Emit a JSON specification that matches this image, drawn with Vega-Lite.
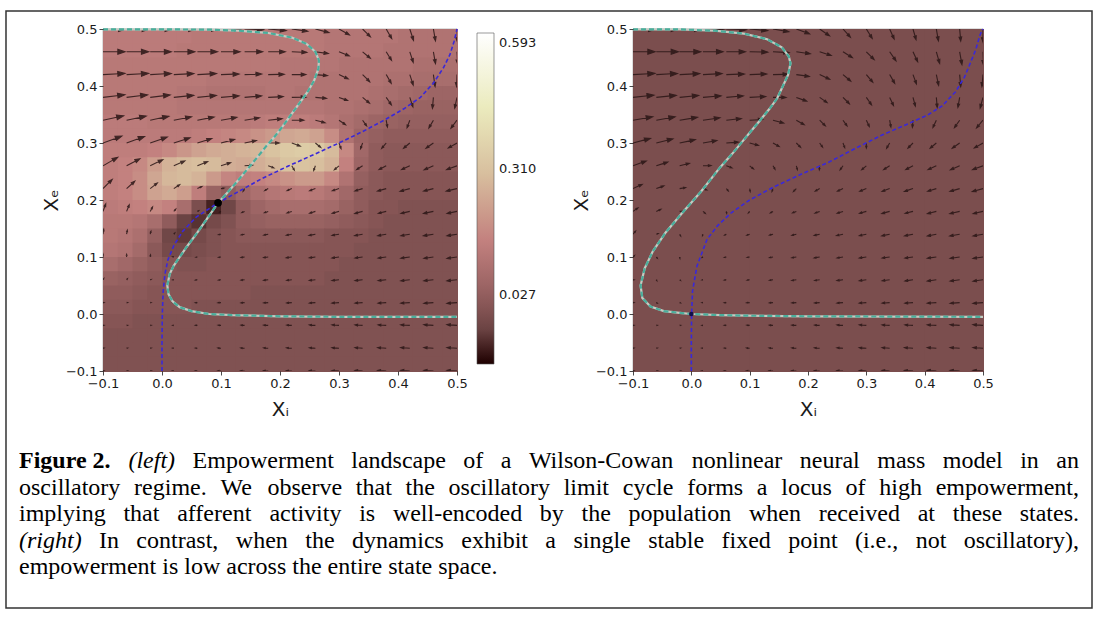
{
"$schema":"https://vega.github.io/schema/vega-lite/v6.json",
"background":"white",
"padding":{"left":5,"top":10,"right":4,"bottom":17},
"config":{
"font":"DejaVu Sans",
"view":{"stroke":"#333","strokeWidth":0.8},
"axis":{"labelFont":"DejaVu Sans","labelFontSize":13,"labelColor":"#1a1a1a","tickColor":"#1a1a1a","tickSize":4,"tickWidth":0.8,"domain":false,"grid":false,"titleFont":"DejaVu Sans","titleFontSize":20,"titleFontWeight":"normal","titleColor":"#1a1a1a","labelPadding":2,"labelFlush":false,"labelOverlap":false}
},
"datasets":{
"heatL":[
{"x":-0.0875,"y":0.4875,"v":0.13},{"x":-0.0625,"y":0.4875,"v":0.13},{"x":-0.0375,"y":0.4875,"v":0.13},{"x":-0.0125,"y":0.4875,"v":0.13},{"x":0.0125,"y":0.4875,"v":0.13},{"x":0.0375,"y":0.4875,"v":0.13},{"x":0.0625,"y":0.4875,"v":0.12},{"x":0.0875,"y":0.4875,"v":0.12},{"x":0.1125,"y":0.4875,"v":0.12},{"x":0.1375,"y":0.4875,"v":0.12},{"x":0.1625,"y":0.4875,"v":0.12},{"x":0.1875,"y":0.4875,"v":0.12},{"x":0.2125,"y":0.4875,"v":0.12},{"x":0.2375,"y":0.4875,"v":0.12},{"x":0.2625,"y":0.4875,"v":0.12},{"x":0.2875,"y":0.4875,"v":0.11},{"x":0.3125,"y":0.4875,"v":0.11},{"x":0.3375,"y":0.4875,"v":0.11},{"x":0.3625,"y":0.4875,"v":0.11},{"x":0.3875,"y":0.4875,"v":0.11},{"x":0.4125,"y":0.4875,"v":0.10},{"x":0.4375,"y":0.4875,"v":0.10},{"x":0.4625,"y":0.4875,"v":0.10},{"x":0.4875,"y":0.4875,"v":0.10},
{"x":-0.0875,"y":0.4625,"v":0.13},{"x":-0.0625,"y":0.4625,"v":0.13},{"x":-0.0375,"y":0.4625,"v":0.13},{"x":-0.0125,"y":0.4625,"v":0.13},{"x":0.0125,"y":0.4625,"v":0.13},{"x":0.0375,"y":0.4625,"v":0.12},{"x":0.0625,"y":0.4625,"v":0.12},{"x":0.0875,"y":0.4625,"v":0.12},{"x":0.1125,"y":0.4625,"v":0.12},{"x":0.1375,"y":0.4625,"v":0.12},{"x":0.1625,"y":0.4625,"v":0.12},{"x":0.1875,"y":0.4625,"v":0.12},{"x":0.2125,"y":0.4625,"v":0.12},{"x":0.2375,"y":0.4625,"v":0.12},{"x":0.2625,"y":0.4625,"v":0.12},{"x":0.2875,"y":0.4625,"v":0.11},{"x":0.3125,"y":0.4625,"v":0.11},{"x":0.3375,"y":0.4625,"v":0.11},{"x":0.3625,"y":0.4625,"v":0.11},{"x":0.3875,"y":0.4625,"v":0.10},{"x":0.4125,"y":0.4625,"v":0.10},{"x":0.4375,"y":0.4625,"v":0.10},{"x":0.4625,"y":0.4625,"v":0.10},{"x":0.4875,"y":0.4625,"v":0.10},
{"x":-0.0875,"y":0.4375,"v":0.12},{"x":-0.0625,"y":0.4375,"v":0.12},{"x":-0.0375,"y":0.4375,"v":0.12},{"x":-0.0125,"y":0.4375,"v":0.12},{"x":0.0125,"y":0.4375,"v":0.12},{"x":0.0375,"y":0.4375,"v":0.12},{"x":0.0625,"y":0.4375,"v":0.12},{"x":0.0875,"y":0.4375,"v":0.12},{"x":0.1125,"y":0.4375,"v":0.12},{"x":0.1375,"y":0.4375,"v":0.12},{"x":0.1625,"y":0.4375,"v":0.12},{"x":0.1875,"y":0.4375,"v":0.12},{"x":0.2125,"y":0.4375,"v":0.11},{"x":0.2375,"y":0.4375,"v":0.11},{"x":0.2625,"y":0.4375,"v":0.11},{"x":0.2875,"y":0.4375,"v":0.11},{"x":0.3125,"y":0.4375,"v":0.10},{"x":0.3375,"y":0.4375,"v":0.10},{"x":0.3625,"y":0.4375,"v":0.10},{"x":0.3875,"y":0.4375,"v":0.10},{"x":0.4125,"y":0.4375,"v":0.10},{"x":0.4375,"y":0.4375,"v":0.09},{"x":0.4625,"y":0.4375,"v":0.09},{"x":0.4875,"y":0.4375,"v":0.09},
{"x":-0.0875,"y":0.4125,"v":0.12},{"x":-0.0625,"y":0.4125,"v":0.12},{"x":-0.0375,"y":0.4125,"v":0.12},{"x":-0.0125,"y":0.4125,"v":0.12},{"x":0.0125,"y":0.4125,"v":0.12},{"x":0.0375,"y":0.4125,"v":0.12},{"x":0.0625,"y":0.4125,"v":0.12},{"x":0.0875,"y":0.4125,"v":0.11},{"x":0.1125,"y":0.4125,"v":0.11},{"x":0.1375,"y":0.4125,"v":0.11},{"x":0.1625,"y":0.4125,"v":0.11},{"x":0.1875,"y":0.4125,"v":0.11},{"x":0.2125,"y":0.4125,"v":0.11},{"x":0.2375,"y":0.4125,"v":0.11},{"x":0.2625,"y":0.4125,"v":0.10},{"x":0.2875,"y":0.4125,"v":0.10},{"x":0.3125,"y":0.4125,"v":0.10},{"x":0.3375,"y":0.4125,"v":0.10},{"x":0.3625,"y":0.4125,"v":0.10},{"x":0.3875,"y":0.4125,"v":0.09},{"x":0.4125,"y":0.4125,"v":0.09},{"x":0.4375,"y":0.4125,"v":0.08},{"x":0.4625,"y":0.4125,"v":0.08},{"x":0.4875,"y":0.4125,"v":0.08},
{"x":-0.0875,"y":0.3875,"v":0.12},{"x":-0.0625,"y":0.3875,"v":0.12},{"x":-0.0375,"y":0.3875,"v":0.12},{"x":-0.0125,"y":0.3875,"v":0.12},{"x":0.0125,"y":0.3875,"v":0.12},{"x":0.0375,"y":0.3875,"v":0.11},{"x":0.0625,"y":0.3875,"v":0.11},{"x":0.0875,"y":0.3875,"v":0.10},{"x":0.1125,"y":0.3875,"v":0.10},{"x":0.1375,"y":0.3875,"v":0.10},{"x":0.1625,"y":0.3875,"v":0.10},{"x":0.1875,"y":0.3875,"v":0.11},{"x":0.2125,"y":0.3875,"v":0.11},{"x":0.2375,"y":0.3875,"v":0.10},{"x":0.2625,"y":0.3875,"v":0.10},{"x":0.2875,"y":0.3875,"v":0.10},{"x":0.3125,"y":0.3875,"v":0.10},{"x":0.3375,"y":0.3875,"v":0.10},{"x":0.3625,"y":0.3875,"v":0.09},{"x":0.3875,"y":0.3875,"v":0.08},{"x":0.4125,"y":0.3875,"v":0.07},{"x":0.4375,"y":0.3875,"v":0.06},{"x":0.4625,"y":0.3875,"v":0.05},{"x":0.4875,"y":0.3875,"v":0.05},
{"x":-0.0875,"y":0.3625,"v":0.12},{"x":-0.0625,"y":0.3625,"v":0.12},{"x":-0.0375,"y":0.3625,"v":0.12},{"x":-0.0125,"y":0.3625,"v":0.12},{"x":0.0125,"y":0.3625,"v":0.12},{"x":0.0375,"y":0.3625,"v":0.11},{"x":0.0625,"y":0.3625,"v":0.11},{"x":0.0875,"y":0.3625,"v":0.11},{"x":0.1125,"y":0.3625,"v":0.11},{"x":0.1375,"y":0.3625,"v":0.11},{"x":0.1625,"y":0.3625,"v":0.11},{"x":0.1875,"y":0.3625,"v":0.11},{"x":0.2125,"y":0.3625,"v":0.11},{"x":0.2375,"y":0.3625,"v":0.11},{"x":0.2625,"y":0.3625,"v":0.11},{"x":0.2875,"y":0.3625,"v":0.10},{"x":0.3125,"y":0.3625,"v":0.10},{"x":0.3375,"y":0.3625,"v":0.09},{"x":0.3625,"y":0.3625,"v":0.08},{"x":0.3875,"y":0.3625,"v":0.06},{"x":0.4125,"y":0.3625,"v":0.05},{"x":0.4375,"y":0.3625,"v":0.04},{"x":0.4625,"y":0.3625,"v":0.04},{"x":0.4875,"y":0.3625,"v":0.04},
{"x":-0.0875,"y":0.3375,"v":0.13},{"x":-0.0625,"y":0.3375,"v":0.13},{"x":-0.0375,"y":0.3375,"v":0.13},{"x":-0.0125,"y":0.3375,"v":0.12},{"x":0.0125,"y":0.3375,"v":0.12},{"x":0.0375,"y":0.3375,"v":0.12},{"x":0.0625,"y":0.3375,"v":0.12},{"x":0.0875,"y":0.3375,"v":0.12},{"x":0.1125,"y":0.3375,"v":0.12},{"x":0.1375,"y":0.3375,"v":0.12},{"x":0.1625,"y":0.3375,"v":0.13},{"x":0.1875,"y":0.3375,"v":0.14},{"x":0.2125,"y":0.3375,"v":0.14},{"x":0.2375,"y":0.3375,"v":0.14},{"x":0.2625,"y":0.3375,"v":0.13},{"x":0.2875,"y":0.3375,"v":0.11},{"x":0.3125,"y":0.3375,"v":0.09},{"x":0.3375,"y":0.3375,"v":0.07},{"x":0.3625,"y":0.3375,"v":0.05},{"x":0.3875,"y":0.3375,"v":0.04},{"x":0.4125,"y":0.3375,"v":0.03},{"x":0.4375,"y":0.3375,"v":0.03},{"x":0.4625,"y":0.3375,"v":0.03},{"x":0.4875,"y":0.3375,"v":0.03},
{"x":-0.0875,"y":0.3125,"v":0.13},{"x":-0.0625,"y":0.3125,"v":0.13},{"x":-0.0375,"y":0.3125,"v":0.13},{"x":-0.0125,"y":0.3125,"v":0.13},{"x":0.0125,"y":0.3125,"v":0.13},{"x":0.0375,"y":0.3125,"v":0.13},{"x":0.0625,"y":0.3125,"v":0.14},{"x":0.0875,"y":0.3125,"v":0.15},{"x":0.1125,"y":0.3125,"v":0.16},{"x":0.1375,"y":0.3125,"v":0.17},{"x":0.1625,"y":0.3125,"v":0.19},{"x":0.1875,"y":0.3125,"v":0.21},{"x":0.2125,"y":0.3125,"v":0.24},{"x":0.2375,"y":0.3125,"v":0.25},{"x":0.2625,"y":0.3125,"v":0.23},{"x":0.2875,"y":0.3125,"v":0.18},{"x":0.3125,"y":0.3125,"v":0.10},{"x":0.3375,"y":0.3125,"v":0.05},{"x":0.3625,"y":0.3125,"v":0.03},{"x":0.3875,"y":0.3125,"v":0.02},{"x":0.4125,"y":0.3125,"v":0.02},{"x":0.4375,"y":0.3125,"v":0.02},{"x":0.4625,"y":0.3125,"v":0.02},{"x":0.4875,"y":0.3125,"v":0.02},
{"x":-0.0875,"y":0.2875,"v":0.14},{"x":-0.0625,"y":0.2875,"v":0.14},{"x":-0.0375,"y":0.2875,"v":0.14},{"x":-0.0125,"y":0.2875,"v":0.15},{"x":0.0125,"y":0.2875,"v":0.17},{"x":0.0375,"y":0.2875,"v":0.20},{"x":0.0625,"y":0.2875,"v":0.23},{"x":0.0875,"y":0.2875,"v":0.25},{"x":0.1125,"y":0.2875,"v":0.26},{"x":0.1375,"y":0.2875,"v":0.27},{"x":0.1625,"y":0.2875,"v":0.28},{"x":0.1875,"y":0.2875,"v":0.31},{"x":0.2125,"y":0.2875,"v":0.33},{"x":0.2375,"y":0.2875,"v":0.34},{"x":0.2625,"y":0.2875,"v":0.33},{"x":0.2875,"y":0.2875,"v":0.29},{"x":0.3125,"y":0.2875,"v":0.17},{"x":0.3375,"y":0.2875,"v":0.06},{"x":0.3625,"y":0.2875,"v":0.02},{"x":0.3875,"y":0.2875,"v":0.01},{"x":0.4125,"y":0.2875,"v":0.01},{"x":0.4375,"y":0.2875,"v":0.01},{"x":0.4625,"y":0.2875,"v":0.01},{"x":0.4875,"y":0.2875,"v":0.01},
{"x":-0.0875,"y":0.2625,"v":0.14},{"x":-0.0625,"y":0.2625,"v":0.15},{"x":-0.0375,"y":0.2625,"v":0.17},{"x":-0.0125,"y":0.2625,"v":0.22},{"x":0.0125,"y":0.2625,"v":0.27},{"x":0.0375,"y":0.2625,"v":0.29},{"x":0.0625,"y":0.2625,"v":0.30},{"x":0.0875,"y":0.2625,"v":0.29},{"x":0.1125,"y":0.2625,"v":0.26},{"x":0.1375,"y":0.2625,"v":0.25},{"x":0.1625,"y":0.2625,"v":0.26},{"x":0.1875,"y":0.2625,"v":0.28},{"x":0.2125,"y":0.2625,"v":0.31},{"x":0.2375,"y":0.2625,"v":0.31},{"x":0.2625,"y":0.2625,"v":0.30},{"x":0.2875,"y":0.2625,"v":0.27},{"x":0.3125,"y":0.2625,"v":0.15},{"x":0.3375,"y":0.2625,"v":0.05},{"x":0.3625,"y":0.2625,"v":0.02},{"x":0.3875,"y":0.2625,"v":0.01},{"x":0.4125,"y":0.2625,"v":0.01},{"x":0.4375,"y":0.2625,"v":0.01},{"x":0.4625,"y":0.2625,"v":0.01},{"x":0.4875,"y":0.2625,"v":0.01},
{"x":-0.0875,"y":0.2375,"v":0.14},{"x":-0.0625,"y":0.2375,"v":0.15},{"x":-0.0375,"y":0.2375,"v":0.18},{"x":-0.0125,"y":0.2375,"v":0.24},{"x":0.0125,"y":0.2375,"v":0.28},{"x":0.0375,"y":0.2375,"v":0.29},{"x":0.0625,"y":0.2375,"v":0.27},{"x":0.0875,"y":0.2375,"v":0.21},{"x":0.1125,"y":0.2375,"v":0.16},{"x":0.1375,"y":0.2375,"v":0.14},{"x":0.1625,"y":0.2375,"v":0.15},{"x":0.1875,"y":0.2375,"v":0.17},{"x":0.2125,"y":0.2375,"v":0.19},{"x":0.2375,"y":0.2375,"v":0.21},{"x":0.2625,"y":0.2375,"v":0.21},{"x":0.2875,"y":0.2375,"v":0.17},{"x":0.3125,"y":0.2375,"v":0.10},{"x":0.3375,"y":0.2375,"v":0.03},{"x":0.3625,"y":0.2375,"v":0.01},{"x":0.3875,"y":0.2375,"v":0},{"x":0.4125,"y":0.2375,"v":0},{"x":0.4375,"y":0.2375,"v":0},{"x":0.4625,"y":0.2375,"v":0},{"x":0.4875,"y":0.2375,"v":0},
{"x":-0.0875,"y":0.2125,"v":0.14},{"x":-0.0625,"y":0.2125,"v":0.15},{"x":-0.0375,"y":0.2125,"v":0.18},{"x":-0.0125,"y":0.2125,"v":0.23},{"x":0.0125,"y":0.2125,"v":0.25},{"x":0.0375,"y":0.2125,"v":0.22},{"x":0.0625,"y":0.2125,"v":0.14},{"x":0.0875,"y":0.2125,"v":0.04},{"x":0.1125,"y":0.2125,"v":0.02},{"x":0.1375,"y":0.2125,"v":0.06},{"x":0.1625,"y":0.2125,"v":0.09},{"x":0.1875,"y":0.2125,"v":0.11},{"x":0.2125,"y":0.2125,"v":0.12},{"x":0.2375,"y":0.2125,"v":0.13},{"x":0.2625,"y":0.2125,"v":0.12},{"x":0.2875,"y":0.2125,"v":0.10},{"x":0.3125,"y":0.2125,"v":0.06},{"x":0.3375,"y":0.2125,"v":0.02},{"x":0.3625,"y":0.2125,"v":0.01},{"x":0.3875,"y":0.2125,"v":0},{"x":0.4125,"y":0.2125,"v":0},{"x":0.4375,"y":0.2125,"v":0},{"x":0.4625,"y":0.2125,"v":0},{"x":0.4875,"y":0.2125,"v":0},
{"x":-0.0875,"y":0.1875,"v":0.13},{"x":-0.0625,"y":0.1875,"v":0.14},{"x":-0.0375,"y":0.1875,"v":0.15},{"x":-0.0125,"y":0.1875,"v":0.17},{"x":0.0125,"y":0.1875,"v":0.15},{"x":0.0375,"y":0.1875,"v":0.08},{"x":0.0625,"y":0.1875,"v":-0.02},{"x":0.0875,"y":0.1875,"v":-0.09},{"x":0.1125,"y":0.1875,"v":-0.04},{"x":0.1375,"y":0.1875,"v":0.02},{"x":0.1625,"y":0.1875,"v":0.05},{"x":0.1875,"y":0.1875,"v":0.07},{"x":0.2125,"y":0.1875,"v":0.08},{"x":0.2375,"y":0.1875,"v":0.08},{"x":0.2625,"y":0.1875,"v":0.08},{"x":0.2875,"y":0.1875,"v":0.07},{"x":0.3125,"y":0.1875,"v":0.04},{"x":0.3375,"y":0.1875,"v":0.02},{"x":0.3625,"y":0.1875,"v":0},{"x":0.3875,"y":0.1875,"v":0},{"x":0.4125,"y":0.1875,"v":-0.01},{"x":0.4375,"y":0.1875,"v":-0.01},{"x":0.4625,"y":0.1875,"v":-0.01},{"x":0.4875,"y":0.1875,"v":-0.01},
{"x":-0.0875,"y":0.1625,"v":0.12},{"x":-0.0625,"y":0.1625,"v":0.12},{"x":-0.0375,"y":0.1625,"v":0.11},{"x":-0.0125,"y":0.1625,"v":0.08},{"x":0.0125,"y":0.1625,"v":0.02},{"x":0.0375,"y":0.1625,"v":-0.05},{"x":0.0625,"y":0.1625,"v":-0.07},{"x":0.0875,"y":0.1625,"v":-0.03},{"x":0.1125,"y":0.1625,"v":-0.01},{"x":0.1375,"y":0.1625,"v":0.02},{"x":0.1625,"y":0.1625,"v":0.03},{"x":0.1875,"y":0.1625,"v":0.04},{"x":0.2125,"y":0.1625,"v":0.04},{"x":0.2375,"y":0.1625,"v":0.04},{"x":0.2625,"y":0.1625,"v":0.04},{"x":0.2875,"y":0.1625,"v":0.03},{"x":0.3125,"y":0.1625,"v":0.02},{"x":0.3375,"y":0.1625,"v":0.01},{"x":0.3625,"y":0.1625,"v":0},{"x":0.3875,"y":0.1625,"v":-0.01},{"x":0.4125,"y":0.1625,"v":-0.01},{"x":0.4375,"y":0.1625,"v":-0.01},{"x":0.4625,"y":0.1625,"v":-0.01},{"x":0.4875,"y":0.1625,"v":-0.01},
{"x":-0.0875,"y":0.1375,"v":0.12},{"x":-0.0625,"y":0.1375,"v":0.11},{"x":-0.0375,"y":0.1375,"v":0.09},{"x":-0.0125,"y":0.1375,"v":0.03},{"x":0.0125,"y":0.1375,"v":-0.04},{"x":0.0375,"y":0.1375,"v":-0.06},{"x":0.0625,"y":0.1375,"v":-0.03},{"x":0.0875,"y":0.1375,"v":-0.01},{"x":0.1125,"y":0.1375,"v":0},{"x":0.1375,"y":0.1375,"v":0.01},{"x":0.1625,"y":0.1375,"v":0.01},{"x":0.1875,"y":0.1375,"v":0.01},{"x":0.2125,"y":0.1375,"v":0.01},{"x":0.2375,"y":0.1375,"v":0.01},{"x":0.2625,"y":0.1375,"v":0.01},{"x":0.2875,"y":0.1375,"v":0},{"x":0.3125,"y":0.1375,"v":0},{"x":0.3375,"y":0.1375,"v":0},{"x":0.3625,"y":0.1375,"v":-0.01},{"x":0.3875,"y":0.1375,"v":-0.01},{"x":0.4125,"y":0.1375,"v":-0.01},{"x":0.4375,"y":0.1375,"v":-0.01},{"x":0.4625,"y":0.1375,"v":-0.01},{"x":0.4875,"y":0.1375,"v":-0.01},
{"x":-0.0875,"y":0.1125,"v":0.11},{"x":-0.0625,"y":0.1125,"v":0.10},{"x":-0.0375,"y":0.1125,"v":0.07},{"x":-0.0125,"y":0.1125,"v":0.01},{"x":0.0125,"y":0.1125,"v":-0.03},{"x":0.0375,"y":0.1125,"v":-0.03},{"x":0.0625,"y":0.1125,"v":-0.02},{"x":0.0875,"y":0.1125,"v":-0.01},{"x":0.1125,"y":0.1125,"v":0},{"x":0.1375,"y":0.1125,"v":0},{"x":0.1625,"y":0.1125,"v":0},{"x":0.1875,"y":0.1125,"v":0},{"x":0.2125,"y":0.1125,"v":0},{"x":0.2375,"y":0.1125,"v":0},{"x":0.2625,"y":0.1125,"v":0},{"x":0.2875,"y":0.1125,"v":0},{"x":0.3125,"y":0.1125,"v":0},{"x":0.3375,"y":0.1125,"v":-0.01},{"x":0.3625,"y":0.1125,"v":-0.01},{"x":0.3875,"y":0.1125,"v":-0.01},{"x":0.4125,"y":0.1125,"v":-0.01},{"x":0.4375,"y":0.1125,"v":-0.01},{"x":0.4625,"y":0.1125,"v":-0.01},{"x":0.4875,"y":0.1125,"v":-0.01},
{"x":-0.0875,"y":0.0875,"v":0.08},{"x":-0.0625,"y":0.0875,"v":0.06},{"x":-0.0375,"y":0.0875,"v":0.04},{"x":-0.0125,"y":0.0875,"v":0.02},{"x":0.0125,"y":0.0875,"v":0},{"x":0.0375,"y":0.0875,"v":-0.01},{"x":0.0625,"y":0.0875,"v":-0.01},{"x":0.0875,"y":0.0875,"v":0},{"x":0.1125,"y":0.0875,"v":0},{"x":0.1375,"y":0.0875,"v":0},{"x":0.1625,"y":0.0875,"v":0},{"x":0.1875,"y":0.0875,"v":0},{"x":0.2125,"y":0.0875,"v":0},{"x":0.2375,"y":0.0875,"v":0},{"x":0.2625,"y":0.0875,"v":0},{"x":0.2875,"y":0.0875,"v":0},{"x":0.3125,"y":0.0875,"v":-0.01},{"x":0.3375,"y":0.0875,"v":-0.01},{"x":0.3625,"y":0.0875,"v":-0.01},{"x":0.3875,"y":0.0875,"v":-0.01},{"x":0.4125,"y":0.0875,"v":-0.01},{"x":0.4375,"y":0.0875,"v":-0.01},{"x":0.4625,"y":0.0875,"v":-0.01},{"x":0.4875,"y":0.0875,"v":-0.01},
{"x":-0.0875,"y":0.0625,"v":0.04},{"x":-0.0625,"y":0.0625,"v":0.03},{"x":-0.0375,"y":0.0625,"v":0.02},{"x":-0.0125,"y":0.0625,"v":0.01},{"x":0.0125,"y":0.0625,"v":0},{"x":0.0375,"y":0.0625,"v":0},{"x":0.0625,"y":0.0625,"v":0},{"x":0.0875,"y":0.0625,"v":0},{"x":0.1125,"y":0.0625,"v":0},{"x":0.1375,"y":0.0625,"v":0},{"x":0.1625,"y":0.0625,"v":0},{"x":0.1875,"y":0.0625,"v":0},{"x":0.2125,"y":0.0625,"v":0},{"x":0.2375,"y":0.0625,"v":0},{"x":0.2625,"y":0.0625,"v":0},{"x":0.2875,"y":0.0625,"v":-0.01},{"x":0.3125,"y":0.0625,"v":-0.01},{"x":0.3375,"y":0.0625,"v":-0.01},{"x":0.3625,"y":0.0625,"v":-0.01},{"x":0.3875,"y":0.0625,"v":-0.01},{"x":0.4125,"y":0.0625,"v":-0.01},{"x":0.4375,"y":0.0625,"v":-0.01},{"x":0.4625,"y":0.0625,"v":-0.01},{"x":0.4875,"y":0.0625,"v":-0.01},
{"x":-0.0875,"y":0.0375,"v":0.02},{"x":-0.0625,"y":0.0375,"v":0.02},{"x":-0.0375,"y":0.0375,"v":0.01},{"x":-0.0125,"y":0.0375,"v":0},{"x":0.0125,"y":0.0375,"v":0},{"x":0.0375,"y":0.0375,"v":0},{"x":0.0625,"y":0.0375,"v":0},{"x":0.0875,"y":0.0375,"v":0},{"x":0.1125,"y":0.0375,"v":0},{"x":0.1375,"y":0.0375,"v":0},{"x":0.1625,"y":0.0375,"v":-0.01},{"x":0.1875,"y":0.0375,"v":-0.01},{"x":0.2125,"y":0.0375,"v":-0.01},{"x":0.2375,"y":0.0375,"v":-0.01},{"x":0.2625,"y":0.0375,"v":-0.01},{"x":0.2875,"y":0.0375,"v":-0.01},{"x":0.3125,"y":0.0375,"v":-0.01},{"x":0.3375,"y":0.0375,"v":-0.01},{"x":0.3625,"y":0.0375,"v":-0.01},{"x":0.3875,"y":0.0375,"v":-0.01},{"x":0.4125,"y":0.0375,"v":-0.01},{"x":0.4375,"y":0.0375,"v":-0.01},{"x":0.4625,"y":0.0375,"v":-0.01},{"x":0.4875,"y":0.0375,"v":-0.01},
{"x":-0.0875,"y":0.0125,"v":0.01},{"x":-0.0625,"y":0.0125,"v":0.01},{"x":-0.0375,"y":0.0125,"v":0},{"x":-0.0125,"y":0.0125,"v":0},{"x":0.0125,"y":0.0125,"v":0},{"x":0.0375,"y":0.0125,"v":0},{"x":0.0625,"y":0.0125,"v":-0.01},{"x":0.0875,"y":0.0125,"v":-0.01},{"x":0.1125,"y":0.0125,"v":-0.01},{"x":0.1375,"y":0.0125,"v":-0.01},{"x":0.1625,"y":0.0125,"v":-0.01},{"x":0.1875,"y":0.0125,"v":-0.01},{"x":0.2125,"y":0.0125,"v":-0.01},{"x":0.2375,"y":0.0125,"v":-0.01},{"x":0.2625,"y":0.0125,"v":-0.01},{"x":0.2875,"y":0.0125,"v":-0.01},{"x":0.3125,"y":0.0125,"v":-0.01},{"x":0.3375,"y":0.0125,"v":-0.01},{"x":0.3625,"y":0.0125,"v":-0.01},{"x":0.3875,"y":0.0125,"v":-0.01},{"x":0.4125,"y":0.0125,"v":-0.01},{"x":0.4375,"y":0.0125,"v":-0.01},{"x":0.4625,"y":0.0125,"v":-0.01},{"x":0.4875,"y":0.0125,"v":-0.01},
{"x":-0.0875,"y":-0.0125,"v":0},{"x":-0.0625,"y":-0.0125,"v":0},{"x":-0.0375,"y":-0.0125,"v":-0.01},{"x":-0.0125,"y":-0.0125,"v":-0.01},{"x":0.0125,"y":-0.0125,"v":-0.01},{"x":0.0375,"y":-0.0125,"v":-0.01},{"x":0.0625,"y":-0.0125,"v":-0.01},{"x":0.0875,"y":-0.0125,"v":-0.01},{"x":0.1125,"y":-0.0125,"v":-0.01},{"x":0.1375,"y":-0.0125,"v":-0.01},{"x":0.1625,"y":-0.0125,"v":-0.01},{"x":0.1875,"y":-0.0125,"v":-0.01},{"x":0.2125,"y":-0.0125,"v":-0.01},{"x":0.2375,"y":-0.0125,"v":-0.01},{"x":0.2625,"y":-0.0125,"v":-0.01},{"x":0.2875,"y":-0.0125,"v":-0.01},{"x":0.3125,"y":-0.0125,"v":-0.01},{"x":0.3375,"y":-0.0125,"v":-0.01},{"x":0.3625,"y":-0.0125,"v":-0.01},{"x":0.3875,"y":-0.0125,"v":-0.01},{"x":0.4125,"y":-0.0125,"v":-0.01},{"x":0.4375,"y":-0.0125,"v":-0.01},{"x":0.4625,"y":-0.0125,"v":-0.01},{"x":0.4875,"y":-0.0125,"v":-0.01},
{"x":-0.0875,"y":-0.0375,"v":-0.01},{"x":-0.0625,"y":-0.0375,"v":-0.01},{"x":-0.0375,"y":-0.0375,"v":-0.01},{"x":-0.0125,"y":-0.0375,"v":-0.01},{"x":0.0125,"y":-0.0375,"v":-0.01},{"x":0.0375,"y":-0.0375,"v":-0.01},{"x":0.0625,"y":-0.0375,"v":-0.01},{"x":0.0875,"y":-0.0375,"v":-0.01},{"x":0.1125,"y":-0.0375,"v":-0.01},{"x":0.1375,"y":-0.0375,"v":-0.01},{"x":0.1625,"y":-0.0375,"v":-0.01},{"x":0.1875,"y":-0.0375,"v":-0.01},{"x":0.2125,"y":-0.0375,"v":-0.01},{"x":0.2375,"y":-0.0375,"v":-0.01},{"x":0.2625,"y":-0.0375,"v":-0.01},{"x":0.2875,"y":-0.0375,"v":-0.01},{"x":0.3125,"y":-0.0375,"v":-0.01},{"x":0.3375,"y":-0.0375,"v":-0.01},{"x":0.3625,"y":-0.0375,"v":-0.01},{"x":0.3875,"y":-0.0375,"v":-0.01},{"x":0.4125,"y":-0.0375,"v":-0.01},{"x":0.4375,"y":-0.0375,"v":-0.01},{"x":0.4625,"y":-0.0375,"v":-0.01},{"x":0.4875,"y":-0.0375,"v":-0.01},
{"x":-0.0875,"y":-0.0625,"v":-0.01},{"x":-0.0625,"y":-0.0625,"v":-0.01},{"x":-0.0375,"y":-0.0625,"v":-0.01},{"x":-0.0125,"y":-0.0625,"v":-0.01},{"x":0.0125,"y":-0.0625,"v":-0.01},{"x":0.0375,"y":-0.0625,"v":-0.01},{"x":0.0625,"y":-0.0625,"v":-0.01},{"x":0.0875,"y":-0.0625,"v":-0.01},{"x":0.1125,"y":-0.0625,"v":-0.01},{"x":0.1375,"y":-0.0625,"v":-0.01},{"x":0.1625,"y":-0.0625,"v":-0.01},{"x":0.1875,"y":-0.0625,"v":-0.01},{"x":0.2125,"y":-0.0625,"v":-0.01},{"x":0.2375,"y":-0.0625,"v":-0.01},{"x":0.2625,"y":-0.0625,"v":-0.01},{"x":0.2875,"y":-0.0625,"v":-0.01},{"x":0.3125,"y":-0.0625,"v":-0.01},{"x":0.3375,"y":-0.0625,"v":-0.01},{"x":0.3625,"y":-0.0625,"v":-0.01},{"x":0.3875,"y":-0.0625,"v":-0.01},{"x":0.4125,"y":-0.0625,"v":-0.01},{"x":0.4375,"y":-0.0625,"v":-0.01},{"x":0.4625,"y":-0.0625,"v":-0.01},{"x":0.4875,"y":-0.0625,"v":-0.01},
{"x":-0.0875,"y":-0.0875,"v":-0.01},{"x":-0.0625,"y":-0.0875,"v":-0.01},{"x":-0.0375,"y":-0.0875,"v":-0.01},{"x":-0.0125,"y":-0.0875,"v":-0.01},{"x":0.0125,"y":-0.0875,"v":-0.01},{"x":0.0375,"y":-0.0875,"v":-0.01},{"x":0.0625,"y":-0.0875,"v":-0.01},{"x":0.0875,"y":-0.0875,"v":-0.01},{"x":0.1125,"y":-0.0875,"v":-0.01},{"x":0.1375,"y":-0.0875,"v":-0.01},{"x":0.1625,"y":-0.0875,"v":-0.01},{"x":0.1875,"y":-0.0875,"v":-0.01},{"x":0.2125,"y":-0.0875,"v":-0.01},{"x":0.2375,"y":-0.0875,"v":-0.01},{"x":0.2625,"y":-0.0875,"v":-0.01},{"x":0.2875,"y":-0.0875,"v":-0.01},{"x":0.3125,"y":-0.0875,"v":-0.01},{"x":0.3375,"y":-0.0875,"v":-0.01},{"x":0.3625,"y":-0.0875,"v":-0.01},{"x":0.3875,"y":-0.0875,"v":-0.01},{"x":0.4125,"y":-0.0875,"v":-0.01},{"x":0.4375,"y":-0.0875,"v":-0.01},{"x":0.4625,"y":-0.0875,"v":-0.01},{"x":0.4875,"y":-0.0875,"v":-0.01}
],
"heatR":[
{"x":-0.05,"y":0.45,"v":-0.02},{"x":0.05,"y":0.45,"v":-0.02},{"x":0.15,"y":0.45,"v":-0.02},{"x":0.25,"y":0.45,"v":-0.02},{"x":0.35,"y":0.45,"v":-0.02},{"x":0.45,"y":0.45,"v":-0.02},
{"x":-0.05,"y":0.35,"v":-0.02},{"x":0.05,"y":0.35,"v":-0.02},{"x":0.15,"y":0.35,"v":-0.02},{"x":0.25,"y":0.35,"v":-0.02},{"x":0.35,"y":0.35,"v":-0.02},{"x":0.45,"y":0.35,"v":-0.02},
{"x":-0.05,"y":0.25,"v":-0.02},{"x":0.05,"y":0.25,"v":-0.02},{"x":0.15,"y":0.25,"v":-0.02},{"x":0.25,"y":0.25,"v":-0.02},{"x":0.35,"y":0.25,"v":-0.02},{"x":0.45,"y":0.25,"v":-0.02},
{"x":-0.05,"y":0.15,"v":-0.02},{"x":0.05,"y":0.15,"v":-0.02},{"x":0.15,"y":0.15,"v":-0.02},{"x":0.25,"y":0.15,"v":-0.02},{"x":0.35,"y":0.15,"v":-0.02},{"x":0.45,"y":0.15,"v":-0.02},
{"x":-0.05,"y":0.05,"v":-0.02},{"x":0.05,"y":0.05,"v":-0.02},{"x":0.15,"y":0.05,"v":-0.02},{"x":0.25,"y":0.05,"v":-0.02},{"x":0.35,"y":0.05,"v":-0.02},{"x":0.45,"y":0.05,"v":-0.02},
{"x":-0.05,"y":-0.05,"v":-0.02},{"x":0.05,"y":-0.05,"v":-0.02},{"x":0.15,"y":-0.05,"v":-0.02},{"x":0.25,"y":-0.05,"v":-0.02},{"x":0.35,"y":-0.05,"v":-0.02},{"x":0.45,"y":-0.05,"v":-0.02}
],
"qL":[
{"x":-0.1,"y":0.5,"L":23,"a":0},{"x":-0.06,"y":0.5,"L":23,"a":0},{"x":-0.02,"y":0.5,"L":22,"a":0},{"x":0.02,"y":0.5,"L":22,"a":0},{"x":0.06,"y":0.5,"L":21,"a":0},{"x":0.1,"y":0.5,"L":20,"a":0},{"x":0.14,"y":0.5,"L":19,"a":2},{"x":0.18,"y":0.5,"L":18,"a":5},{"x":0.22,"y":0.5,"L":16,"a":8},{"x":0.26,"y":0.5,"L":14,"a":15},{"x":0.3,"y":0.5,"L":12,"a":30},{"x":0.34,"y":0.5,"L":11,"a":45},{"x":0.38,"y":0.5,"L":11,"a":60},{"x":0.42,"y":0.5,"L":12,"a":72},{"x":0.46,"y":0.5,"L":12,"a":80},{"x":0.5,"y":0.5,"L":13,"a":88},
{"x":-0.1,"y":0.46,"L":22,"a":0},{"x":-0.06,"y":0.46,"L":22,"a":0},{"x":-0.02,"y":0.46,"L":21,"a":0},{"x":0.02,"y":0.46,"L":21,"a":0},{"x":0.06,"y":0.46,"L":20,"a":0},{"x":0.1,"y":0.46,"L":19,"a":0},{"x":0.14,"y":0.46,"L":18,"a":0},{"x":0.18,"y":0.46,"L":17,"a":0},{"x":0.22,"y":0.46,"L":15,"a":2},{"x":0.26,"y":0.46,"L":13,"a":8},{"x":0.3,"y":0.46,"L":11,"a":22},{"x":0.34,"y":0.46,"L":10,"a":40},{"x":0.38,"y":0.46,"L":10,"a":58},{"x":0.42,"y":0.46,"L":11,"a":72},{"x":0.46,"y":0.46,"L":12,"a":80},{"x":0.5,"y":0.46,"L":12,"a":87},
{"x":-0.1,"y":0.42,"L":22,"a":-3},{"x":-0.06,"y":0.42,"L":22,"a":-3},{"x":-0.02,"y":0.42,"L":21,"a":-3},{"x":0.02,"y":0.42,"L":20,"a":-3},{"x":0.06,"y":0.42,"L":19,"a":-3},{"x":0.1,"y":0.42,"L":18,"a":-2},{"x":0.14,"y":0.42,"L":17,"a":-2},{"x":0.18,"y":0.42,"L":16,"a":-1},{"x":0.22,"y":0.42,"L":14,"a":0},{"x":0.26,"y":0.42,"L":12,"a":5},{"x":0.3,"y":0.42,"L":10,"a":25},{"x":0.34,"y":0.42,"L":10,"a":45},{"x":0.38,"y":0.42,"L":10,"a":60},{"x":0.42,"y":0.42,"L":11,"a":72},{"x":0.46,"y":0.42,"L":12,"a":82},{"x":0.5,"y":0.42,"L":12,"a":92},
{"x":-0.1,"y":0.38,"L":22,"a":-7},{"x":-0.06,"y":0.38,"L":21,"a":-7},{"x":-0.02,"y":0.38,"L":20,"a":-7},{"x":0.02,"y":0.38,"L":20,"a":-6},{"x":0.06,"y":0.38,"L":19,"a":-6},{"x":0.1,"y":0.38,"L":18,"a":-5},{"x":0.14,"y":0.38,"L":17,"a":-5},{"x":0.18,"y":0.38,"L":15,"a":-3},{"x":0.22,"y":0.38,"L":14,"a":-1},{"x":0.26,"y":0.38,"L":11,"a":5},{"x":0.3,"y":0.38,"L":9,"a":20},{"x":0.34,"y":0.38,"L":9,"a":40},{"x":0.38,"y":0.38,"L":9,"a":55},{"x":0.42,"y":0.38,"L":10,"a":72},{"x":0.46,"y":0.38,"L":11,"a":95},{"x":0.5,"y":0.38,"L":11,"a":102},
{"x":-0.1,"y":0.34,"L":21,"a":-12},{"x":-0.06,"y":0.34,"L":20,"a":-12},{"x":-0.02,"y":0.34,"L":19,"a":-12},{"x":0.02,"y":0.34,"L":18,"a":-11},{"x":0.06,"y":0.34,"L":17,"a":-11},{"x":0.1,"y":0.34,"L":16,"a":-10},{"x":0.14,"y":0.34,"L":15,"a":-9},{"x":0.18,"y":0.34,"L":14,"a":-6},{"x":0.22,"y":0.34,"L":12,"a":0},{"x":0.26,"y":0.34,"L":10,"a":15},{"x":0.3,"y":0.34,"L":8,"a":35},{"x":0.34,"y":0.34,"L":7,"a":55},{"x":0.38,"y":0.34,"L":7,"a":80},{"x":0.42,"y":0.34,"L":8,"a":110},{"x":0.46,"y":0.34,"L":9,"a":120},{"x":0.5,"y":0.34,"L":10,"a":127},
{"x":-0.1,"y":0.3,"L":20,"a":-20},{"x":-0.06,"y":0.3,"L":19,"a":-20},{"x":-0.02,"y":0.3,"L":18,"a":-19},{"x":0.02,"y":0.3,"L":17,"a":-18},{"x":0.06,"y":0.3,"L":15,"a":-17},{"x":0.1,"y":0.3,"L":14,"a":-15},{"x":0.14,"y":0.3,"L":12,"a":-12},{"x":0.18,"y":0.3,"L":11,"a":0},{"x":0.22,"y":0.3,"L":9,"a":20},{"x":0.26,"y":0.3,"L":7,"a":40},{"x":0.3,"y":0.3,"L":6,"a":70},{"x":0.34,"y":0.3,"L":6,"a":110},{"x":0.38,"y":0.3,"L":7,"a":130},{"x":0.42,"y":0.3,"L":8,"a":140},{"x":0.46,"y":0.3,"L":9,"a":145},{"x":0.5,"y":0.3,"L":10,"a":150},
{"x":-0.1,"y":0.26,"L":17,"a":-30},{"x":-0.06,"y":0.26,"L":15,"a":-28},{"x":-0.02,"y":0.26,"L":14,"a":-26},{"x":0.02,"y":0.26,"L":12,"a":-24},{"x":0.06,"y":0.26,"L":11,"a":-22},{"x":0.1,"y":0.26,"L":10,"a":-18},{"x":0.14,"y":0.26,"L":8,"a":-5},{"x":0.18,"y":0.26,"L":6,"a":20},{"x":0.22,"y":0.26,"L":5,"a":60},{"x":0.26,"y":0.26,"L":5,"a":110},{"x":0.3,"y":0.26,"L":6,"a":140},{"x":0.34,"y":0.26,"L":7,"a":148},{"x":0.38,"y":0.26,"L":8,"a":152},{"x":0.42,"y":0.26,"L":9,"a":155},{"x":0.46,"y":0.26,"L":10,"a":157},{"x":0.5,"y":0.26,"L":11,"a":160},
{"x":-0.1,"y":0.22,"L":13,"a":-45},{"x":-0.06,"y":0.22,"L":11,"a":-42},{"x":-0.02,"y":0.22,"L":9,"a":-38},{"x":0.02,"y":0.22,"L":7,"a":-33},{"x":0.06,"y":0.22,"L":5,"a":-25},{"x":0.1,"y":0.22,"L":3,"a":-10},{"x":0.14,"y":0.22,"L":3,"a":120},{"x":0.18,"y":0.22,"L":4,"a":150},{"x":0.22,"y":0.22,"L":5,"a":157},{"x":0.26,"y":0.22,"L":6,"a":160},{"x":0.3,"y":0.22,"L":7,"a":162},{"x":0.34,"y":0.22,"L":8,"a":163},{"x":0.38,"y":0.22,"L":9,"a":164},{"x":0.42,"y":0.22,"L":10,"a":165},{"x":0.46,"y":0.22,"L":10,"a":166},{"x":0.5,"y":0.22,"L":11,"a":167},
{"x":-0.1,"y":0.18,"L":8,"a":-70},{"x":-0.06,"y":0.18,"L":7,"a":-68},{"x":-0.02,"y":0.18,"L":5,"a":-62},{"x":0.02,"y":0.18,"L":3,"a":-50},{"x":0.06,"y":0.18,"L":1.5,"a":-30},{"x":0.1,"y":0.18,"L":1.5,"a":150},{"x":0.14,"y":0.18,"L":3,"a":158},{"x":0.18,"y":0.18,"L":4,"a":160},{"x":0.22,"y":0.18,"L":5,"a":162},{"x":0.26,"y":0.18,"L":6,"a":163},{"x":0.3,"y":0.18,"L":7,"a":164},{"x":0.34,"y":0.18,"L":8,"a":165},{"x":0.38,"y":0.18,"L":8,"a":166},{"x":0.42,"y":0.18,"L":9,"a":167},{"x":0.46,"y":0.18,"L":10,"a":168},{"x":0.5,"y":0.18,"L":10,"a":168},
{"x":-0.1,"y":0.14,"L":5,"a":-82},{"x":-0.06,"y":0.14,"L":4,"a":-80},{"x":-0.02,"y":0.14,"L":3,"a":-75},{"x":0.02,"y":0.14,"L":1.5,"a":-50},{"x":0.06,"y":0.14,"L":1.5,"a":175},{"x":0.1,"y":0.14,"L":2.5,"a":168},{"x":0.14,"y":0.14,"L":3.5,"a":168},{"x":0.18,"y":0.14,"L":4.5,"a":168},{"x":0.22,"y":0.14,"L":5.5,"a":169},{"x":0.26,"y":0.14,"L":6.5,"a":169},{"x":0.3,"y":0.14,"L":7,"a":170},{"x":0.34,"y":0.14,"L":8,"a":170},{"x":0.38,"y":0.14,"L":8.5,"a":170},{"x":0.42,"y":0.14,"L":9,"a":170},{"x":0.46,"y":0.14,"L":10,"a":171},{"x":0.5,"y":0.14,"L":10,"a":171},
{"x":-0.1,"y":0.1,"L":3,"a":-90},{"x":-0.06,"y":0.1,"L":2.5,"a":-88},{"x":-0.02,"y":0.1,"L":2,"a":-80},{"x":0.02,"y":0.1,"L":1,"a":-170},{"x":0.06,"y":0.1,"L":1.5,"a":172},{"x":0.1,"y":0.1,"L":2.5,"a":172},{"x":0.14,"y":0.1,"L":3.5,"a":172},{"x":0.18,"y":0.1,"L":4.5,"a":172},{"x":0.22,"y":0.1,"L":5.5,"a":172},{"x":0.26,"y":0.1,"L":6,"a":172},{"x":0.3,"y":0.1,"L":7,"a":172},{"x":0.34,"y":0.1,"L":7.5,"a":172},{"x":0.38,"y":0.1,"L":8,"a":172},{"x":0.42,"y":0.1,"L":9,"a":172},{"x":0.46,"y":0.1,"L":9.5,"a":172},{"x":0.5,"y":0.1,"L":10,"a":172},
{"x":-0.1,"y":0.06,"L":1.5,"a":-60},{"x":-0.06,"y":0.06,"L":1.2,"a":-50},{"x":-0.02,"y":0.06,"L":1,"a":-20},{"x":0.02,"y":0.06,"L":1,"a":175},{"x":0.06,"y":0.06,"L":2,"a":174},{"x":0.1,"y":0.06,"L":2.5,"a":174},{"x":0.14,"y":0.06,"L":3.5,"a":174},{"x":0.18,"y":0.06,"L":4.5,"a":174},{"x":0.22,"y":0.06,"L":5,"a":174},{"x":0.26,"y":0.06,"L":6,"a":174},{"x":0.3,"y":0.06,"L":7,"a":174},{"x":0.34,"y":0.06,"L":7.5,"a":174},{"x":0.38,"y":0.06,"L":8,"a":174},{"x":0.42,"y":0.06,"L":9,"a":174},{"x":0.46,"y":0.06,"L":9.5,"a":174},{"x":0.5,"y":0.06,"L":10,"a":174},
{"x":-0.1,"y":0.02,"L":1,"a":0},{"x":-0.06,"y":0.02,"L":1,"a":0},{"x":-0.02,"y":0.02,"L":0.8,"a":0},{"x":0.02,"y":0.02,"L":1,"a":176},{"x":0.06,"y":0.02,"L":2,"a":176},{"x":0.1,"y":0.02,"L":3,"a":176},{"x":0.14,"y":0.02,"L":3.5,"a":176},{"x":0.18,"y":0.02,"L":4.5,"a":176},{"x":0.22,"y":0.02,"L":5,"a":176},{"x":0.26,"y":0.02,"L":6,"a":176},{"x":0.3,"y":0.02,"L":7,"a":176},{"x":0.34,"y":0.02,"L":7.5,"a":176},{"x":0.38,"y":0.02,"L":8,"a":176},{"x":0.42,"y":0.02,"L":9,"a":176},{"x":0.46,"y":0.02,"L":9.5,"a":176},{"x":0.5,"y":0.02,"L":10,"a":176},
{"x":-0.1,"y":-0.02,"L":1,"a":-10},{"x":-0.06,"y":-0.02,"L":1,"a":-10},{"x":-0.02,"y":-0.02,"L":1,"a":-10},{"x":0.02,"y":-0.02,"L":1,"a":-176},{"x":0.06,"y":-0.02,"L":2,"a":-176},{"x":0.1,"y":-0.02,"L":2.8,"a":-176},{"x":0.14,"y":-0.02,"L":3.5,"a":-176},{"x":0.18,"y":-0.02,"L":4.5,"a":-176},{"x":0.22,"y":-0.02,"L":5,"a":-176},{"x":0.26,"y":-0.02,"L":6,"a":-176},{"x":0.3,"y":-0.02,"L":7,"a":-176},{"x":0.34,"y":-0.02,"L":7.5,"a":-176},{"x":0.38,"y":-0.02,"L":8,"a":-176},{"x":0.42,"y":-0.02,"L":9,"a":-176},{"x":0.46,"y":-0.02,"L":9.5,"a":-176},{"x":0.5,"y":-0.02,"L":10,"a":-176},
{"x":-0.1,"y":-0.06,"L":1,"a":-10},{"x":-0.06,"y":-0.06,"L":1,"a":-10},{"x":-0.02,"y":-0.06,"L":1,"a":-10},{"x":0.02,"y":-0.06,"L":1.2,"a":-176},{"x":0.06,"y":-0.06,"L":2,"a":-176},{"x":0.1,"y":-0.06,"L":3,"a":-176},{"x":0.14,"y":-0.06,"L":3.8,"a":-176},{"x":0.18,"y":-0.06,"L":4.5,"a":-176},{"x":0.22,"y":-0.06,"L":5.2,"a":-176},{"x":0.26,"y":-0.06,"L":6,"a":-176},{"x":0.3,"y":-0.06,"L":7,"a":-176},{"x":0.34,"y":-0.06,"L":7.5,"a":-176},{"x":0.38,"y":-0.06,"L":8.5,"a":-176},{"x":0.42,"y":-0.06,"L":9,"a":-176},{"x":0.46,"y":-0.06,"L":9.5,"a":-176},{"x":0.5,"y":-0.06,"L":10,"a":-176},
{"x":-0.1,"y":-0.1,"L":1,"a":-10},{"x":-0.06,"y":-0.1,"L":1,"a":-10},{"x":-0.02,"y":-0.1,"L":1,"a":-10},{"x":0.02,"y":-0.1,"L":1.2,"a":-176},{"x":0.06,"y":-0.1,"L":2,"a":-176},{"x":0.1,"y":-0.1,"L":3,"a":-176},{"x":0.14,"y":-0.1,"L":3.8,"a":-176},{"x":0.18,"y":-0.1,"L":4.5,"a":-176},{"x":0.22,"y":-0.1,"L":5.2,"a":-176},{"x":0.26,"y":-0.1,"L":6,"a":-176},{"x":0.3,"y":-0.1,"L":7,"a":-176},{"x":0.34,"y":-0.1,"L":7.5,"a":-176},{"x":0.38,"y":-0.1,"L":8.5,"a":-176},{"x":0.42,"y":-0.1,"L":9,"a":-176},{"x":0.46,"y":-0.1,"L":9.5,"a":-176},{"x":0.5,"y":-0.1,"L":10,"a":-176}
],
"qR":[
{"x":-0.1,"y":0.5,"L":23,"a":0},{"x":-0.06,"y":0.5,"L":22,"a":0},{"x":-0.02,"y":0.5,"L":22,"a":0},{"x":0.02,"y":0.5,"L":21,"a":0},{"x":0.06,"y":0.5,"L":20,"a":2},{"x":0.1,"y":0.5,"L":18,"a":5},{"x":0.14,"y":0.5,"L":16,"a":10},{"x":0.18,"y":0.5,"L":14,"a":20},{"x":0.22,"y":0.5,"L":12,"a":35},{"x":0.26,"y":0.5,"L":11,"a":48},{"x":0.3,"y":0.5,"L":11,"a":58},{"x":0.34,"y":0.5,"L":11,"a":66},{"x":0.38,"y":0.5,"L":11,"a":74},{"x":0.42,"y":0.5,"L":12,"a":80},{"x":0.46,"y":0.5,"L":12,"a":85},{"x":0.5,"y":0.5,"L":13,"a":90},
{"x":-0.1,"y":0.46,"L":22,"a":0},{"x":-0.06,"y":0.46,"L":22,"a":0},{"x":-0.02,"y":0.46,"L":21,"a":0},{"x":0.02,"y":0.46,"L":20,"a":0},{"x":0.06,"y":0.46,"L":19,"a":0},{"x":0.1,"y":0.46,"L":18,"a":1},{"x":0.14,"y":0.46,"L":16,"a":3},{"x":0.18,"y":0.46,"L":14,"a":8},{"x":0.22,"y":0.46,"L":12,"a":18},{"x":0.26,"y":0.46,"L":11,"a":32},{"x":0.3,"y":0.46,"L":11,"a":45},{"x":0.34,"y":0.46,"L":11,"a":55},{"x":0.38,"y":0.46,"L":11,"a":65},{"x":0.42,"y":0.46,"L":12,"a":74},{"x":0.46,"y":0.46,"L":13,"a":80},{"x":0.5,"y":0.46,"L":13,"a":88},
{"x":-0.1,"y":0.42,"L":22,"a":-3},{"x":-0.06,"y":0.42,"L":21,"a":-3},{"x":-0.02,"y":0.42,"L":20,"a":-3},{"x":0.02,"y":0.42,"L":19,"a":-3},{"x":0.06,"y":0.42,"L":18,"a":-2},{"x":0.1,"y":0.42,"L":17,"a":-2},{"x":0.14,"y":0.42,"L":15,"a":-1},{"x":0.18,"y":0.42,"L":13,"a":8},{"x":0.22,"y":0.42,"L":11,"a":25},{"x":0.26,"y":0.42,"L":10,"a":40},{"x":0.3,"y":0.42,"L":10,"a":50},{"x":0.34,"y":0.42,"L":10,"a":60},{"x":0.38,"y":0.42,"L":10,"a":70},{"x":0.42,"y":0.42,"L":11,"a":78},{"x":0.46,"y":0.42,"L":12,"a":85},{"x":0.5,"y":0.42,"L":12,"a":95},
{"x":-0.1,"y":0.38,"L":21,"a":-6},{"x":-0.06,"y":0.38,"L":20,"a":-6},{"x":-0.02,"y":0.38,"L":19,"a":-6},{"x":0.02,"y":0.38,"L":18,"a":-5},{"x":0.06,"y":0.38,"L":17,"a":-5},{"x":0.1,"y":0.38,"L":16,"a":-3},{"x":0.14,"y":0.38,"L":13,"a":0},{"x":0.18,"y":0.38,"L":11,"a":20},{"x":0.22,"y":0.38,"L":9,"a":35},{"x":0.26,"y":0.38,"L":9,"a":45},{"x":0.3,"y":0.38,"L":9,"a":55},{"x":0.34,"y":0.38,"L":9,"a":65},{"x":0.38,"y":0.38,"L":9,"a":75},{"x":0.42,"y":0.38,"L":10,"a":85},{"x":0.46,"y":0.38,"L":10,"a":100},{"x":0.5,"y":0.38,"L":11,"a":105},
{"x":-0.1,"y":0.34,"L":20,"a":-10},{"x":-0.06,"y":0.34,"L":19,"a":-10},{"x":-0.02,"y":0.34,"L":18,"a":-9},{"x":0.02,"y":0.34,"L":17,"a":-8},{"x":0.06,"y":0.34,"L":15,"a":-6},{"x":0.1,"y":0.34,"L":13,"a":-3},{"x":0.14,"y":0.34,"L":11,"a":15},{"x":0.18,"y":0.34,"L":9,"a":30},{"x":0.22,"y":0.34,"L":8,"a":45},{"x":0.26,"y":0.34,"L":7,"a":55},{"x":0.3,"y":0.34,"L":7,"a":65},{"x":0.34,"y":0.34,"L":7,"a":80},{"x":0.38,"y":0.34,"L":7,"a":95},{"x":0.42,"y":0.34,"L":8,"a":115},{"x":0.46,"y":0.34,"L":9,"a":125},{"x":0.5,"y":0.34,"L":10,"a":130},
{"x":-0.1,"y":0.3,"L":18,"a":-15},{"x":-0.06,"y":0.3,"L":17,"a":-14},{"x":-0.02,"y":0.3,"L":16,"a":-12},{"x":0.02,"y":0.3,"L":14,"a":-10},{"x":0.06,"y":0.3,"L":12,"a":-4},{"x":0.1,"y":0.3,"L":9,"a":15},{"x":0.14,"y":0.3,"L":7,"a":30},{"x":0.18,"y":0.3,"L":6,"a":45},{"x":0.22,"y":0.3,"L":5,"a":55},{"x":0.26,"y":0.3,"L":5,"a":70},{"x":0.3,"y":0.3,"L":5,"a":90},{"x":0.34,"y":0.3,"L":6,"a":120},{"x":0.38,"y":0.3,"L":7,"a":135},{"x":0.42,"y":0.3,"L":8,"a":140},{"x":0.46,"y":0.3,"L":9,"a":145},{"x":0.5,"y":0.3,"L":10,"a":150},
{"x":-0.1,"y":0.26,"L":14,"a":-20},{"x":-0.06,"y":0.26,"L":12,"a":-18},{"x":-0.02,"y":0.26,"L":10,"a":-14},{"x":0.02,"y":0.26,"L":8,"a":-2},{"x":0.06,"y":0.26,"L":6,"a":20},{"x":0.1,"y":0.26,"L":5,"a":40},{"x":0.14,"y":0.26,"L":4,"a":60},{"x":0.18,"y":0.26,"L":4,"a":75},{"x":0.22,"y":0.26,"L":4,"a":95},{"x":0.26,"y":0.26,"L":5,"a":125},{"x":0.3,"y":0.26,"L":6,"a":140},{"x":0.34,"y":0.26,"L":7,"a":148},{"x":0.38,"y":0.26,"L":8,"a":152},{"x":0.42,"y":0.26,"L":9,"a":155},{"x":0.46,"y":0.26,"L":10,"a":157},{"x":0.5,"y":0.26,"L":11,"a":160},
{"x":-0.1,"y":0.22,"L":10,"a":-25},{"x":-0.06,"y":0.22,"L":8,"a":-20},{"x":-0.02,"y":0.22,"L":6,"a":-10},{"x":0.02,"y":0.22,"L":4,"a":20},{"x":0.06,"y":0.22,"L":3,"a":50},{"x":0.1,"y":0.22,"L":3,"a":80},{"x":0.14,"y":0.22,"L":3,"a":110},{"x":0.18,"y":0.22,"L":4,"a":135},{"x":0.22,"y":0.22,"L":5,"a":150},{"x":0.26,"y":0.22,"L":6,"a":155},{"x":0.3,"y":0.22,"L":7,"a":158},{"x":0.34,"y":0.22,"L":8,"a":160},{"x":0.38,"y":0.22,"L":9,"a":162},{"x":0.42,"y":0.22,"L":9,"a":163},{"x":0.46,"y":0.22,"L":10,"a":164},{"x":0.5,"y":0.22,"L":11,"a":165},
{"x":-0.1,"y":0.18,"L":6,"a":-35},{"x":-0.06,"y":0.18,"L":5,"a":-25},{"x":-0.02,"y":0.18,"L":4,"a":0},{"x":0.02,"y":0.18,"L":3,"a":40},{"x":0.06,"y":0.18,"L":2,"a":80},{"x":0.1,"y":0.18,"L":2,"a":130},{"x":0.14,"y":0.18,"L":3,"a":150},{"x":0.18,"y":0.18,"L":4,"a":158},{"x":0.22,"y":0.18,"L":5,"a":160},{"x":0.26,"y":0.18,"L":6,"a":162},{"x":0.3,"y":0.18,"L":7,"a":164},{"x":0.34,"y":0.18,"L":8,"a":165},{"x":0.38,"y":0.18,"L":8,"a":166},{"x":0.42,"y":0.18,"L":9,"a":166},{"x":0.46,"y":0.18,"L":10,"a":167},{"x":0.5,"y":0.18,"L":10,"a":167},
{"x":-0.1,"y":0.14,"L":4,"a":-50},{"x":-0.06,"y":0.14,"L":2,"a":-20},{"x":-0.02,"y":0.14,"L":2,"a":60},{"x":0.02,"y":0.14,"L":1.5,"a":110},{"x":0.06,"y":0.14,"L":2,"a":150},{"x":0.1,"y":0.14,"L":3,"a":160},{"x":0.14,"y":0.14,"L":3.5,"a":165},{"x":0.18,"y":0.14,"L":4.5,"a":166},{"x":0.22,"y":0.14,"L":5.5,"a":167},{"x":0.26,"y":0.14,"L":6.5,"a":168},{"x":0.3,"y":0.14,"L":7,"a":168},{"x":0.34,"y":0.14,"L":8,"a":168},{"x":0.38,"y":0.14,"L":8.5,"a":169},{"x":0.42,"y":0.14,"L":9,"a":169},{"x":0.46,"y":0.14,"L":10,"a":170},{"x":0.5,"y":0.14,"L":10,"a":170},
{"x":-0.1,"y":0.1,"L":2,"a":-45},{"x":-0.06,"y":0.1,"L":1.5,"a":50},{"x":-0.02,"y":0.1,"L":1.5,"a":80},{"x":0.02,"y":0.1,"L":1,"a":150},{"x":0.06,"y":0.1,"L":2,"a":165},{"x":0.1,"y":0.1,"L":2.5,"a":170},{"x":0.14,"y":0.1,"L":3.5,"a":170},{"x":0.18,"y":0.1,"L":4.5,"a":171},{"x":0.22,"y":0.1,"L":5.5,"a":171},{"x":0.26,"y":0.1,"L":6,"a":171},{"x":0.3,"y":0.1,"L":7,"a":172},{"x":0.34,"y":0.1,"L":7.5,"a":172},{"x":0.38,"y":0.1,"L":8,"a":172},{"x":0.42,"y":0.1,"L":9,"a":172},{"x":0.46,"y":0.1,"L":9.5,"a":172},{"x":0.5,"y":0.1,"L":10,"a":172},
{"x":-0.1,"y":0.06,"L":1,"a":0},{"x":-0.06,"y":0.06,"L":1,"a":60},{"x":-0.02,"y":0.06,"L":1,"a":40},{"x":0.02,"y":0.06,"L":1,"a":170},{"x":0.06,"y":0.06,"L":2,"a":172},{"x":0.1,"y":0.06,"L":2.5,"a":172},{"x":0.14,"y":0.06,"L":3.5,"a":172},{"x":0.18,"y":0.06,"L":4.5,"a":172},{"x":0.22,"y":0.06,"L":5,"a":172},{"x":0.26,"y":0.06,"L":6,"a":172},{"x":0.3,"y":0.06,"L":7,"a":172},{"x":0.34,"y":0.06,"L":7.5,"a":172},{"x":0.38,"y":0.06,"L":8,"a":172},{"x":0.42,"y":0.06,"L":9,"a":172},{"x":0.46,"y":0.06,"L":9.5,"a":172},{"x":0.5,"y":0.06,"L":10,"a":172},
{"x":-0.1,"y":0.02,"L":1,"a":0},{"x":-0.06,"y":0.02,"L":1,"a":30},{"x":-0.02,"y":0.02,"L":0.8,"a":20},{"x":0.02,"y":0.02,"L":1,"a":175},{"x":0.06,"y":0.02,"L":2,"a":176},{"x":0.1,"y":0.02,"L":3,"a":176},{"x":0.14,"y":0.02,"L":3.5,"a":176},{"x":0.18,"y":0.02,"L":4.5,"a":176},{"x":0.22,"y":0.02,"L":5,"a":176},{"x":0.26,"y":0.02,"L":6,"a":176},{"x":0.3,"y":0.02,"L":7,"a":176},{"x":0.34,"y":0.02,"L":7.5,"a":176},{"x":0.38,"y":0.02,"L":8,"a":176},{"x":0.42,"y":0.02,"L":9,"a":176},{"x":0.46,"y":0.02,"L":9.5,"a":176},{"x":0.5,"y":0.02,"L":10,"a":176},
{"x":-0.1,"y":-0.02,"L":1,"a":-10},{"x":-0.06,"y":-0.02,"L":1,"a":-10},{"x":-0.02,"y":-0.02,"L":1,"a":-10},{"x":0.02,"y":-0.02,"L":1,"a":-176},{"x":0.06,"y":-0.02,"L":2,"a":-176},{"x":0.1,"y":-0.02,"L":2.8,"a":-176},{"x":0.14,"y":-0.02,"L":3.5,"a":-176},{"x":0.18,"y":-0.02,"L":4.5,"a":-176},{"x":0.22,"y":-0.02,"L":5,"a":-176},{"x":0.26,"y":-0.02,"L":6,"a":-176},{"x":0.3,"y":-0.02,"L":7,"a":-176},{"x":0.34,"y":-0.02,"L":7.5,"a":-176},{"x":0.38,"y":-0.02,"L":8,"a":-176},{"x":0.42,"y":-0.02,"L":9,"a":-176},{"x":0.46,"y":-0.02,"L":9.5,"a":-176},{"x":0.5,"y":-0.02,"L":10,"a":-176},
{"x":-0.1,"y":-0.06,"L":1,"a":-10},{"x":-0.06,"y":-0.06,"L":1,"a":-10},{"x":-0.02,"y":-0.06,"L":1,"a":-10},{"x":0.02,"y":-0.06,"L":1.2,"a":-176},{"x":0.06,"y":-0.06,"L":2,"a":-176},{"x":0.1,"y":-0.06,"L":3,"a":-176},{"x":0.14,"y":-0.06,"L":3.8,"a":-176},{"x":0.18,"y":-0.06,"L":4.5,"a":-176},{"x":0.22,"y":-0.06,"L":5.2,"a":-176},{"x":0.26,"y":-0.06,"L":6,"a":-176},{"x":0.3,"y":-0.06,"L":7,"a":-176},{"x":0.34,"y":-0.06,"L":7.5,"a":-176},{"x":0.38,"y":-0.06,"L":8.5,"a":-176},{"x":0.42,"y":-0.06,"L":9,"a":-176},{"x":0.46,"y":-0.06,"L":9.5,"a":-176},{"x":0.5,"y":-0.06,"L":10,"a":-176},
{"x":-0.1,"y":-0.1,"L":1,"a":-10},{"x":-0.06,"y":-0.1,"L":1,"a":-10},{"x":-0.02,"y":-0.1,"L":1,"a":-10},{"x":0.02,"y":-0.1,"L":1.2,"a":-176},{"x":0.06,"y":-0.1,"L":2,"a":-176},{"x":0.1,"y":-0.1,"L":3,"a":-176},{"x":0.14,"y":-0.1,"L":3.8,"a":-176},{"x":0.18,"y":-0.1,"L":4.5,"a":-176},{"x":0.22,"y":-0.1,"L":5.2,"a":-176},{"x":0.26,"y":-0.1,"L":6,"a":-176},{"x":0.3,"y":-0.1,"L":7,"a":-176},{"x":0.34,"y":-0.1,"L":7.5,"a":-176},{"x":0.38,"y":-0.1,"L":8.5,"a":-176},{"x":0.42,"y":-0.1,"L":9,"a":-176},{"x":0.46,"y":-0.1,"L":9.5,"a":-176},{"x":0.5,"y":-0.1,"L":10,"a":-176}
],
"tealL":[
{"k":1,"x":-0.1,"y":0.4995},{"k":2,"x":0.0,"y":0.4993},{"k":3,"x":0.08,"y":0.499},{"k":4,"x":0.13,"y":0.497},{"k":5,"x":0.18,"y":0.493},{"k":6,"x":0.22,"y":0.485},{"k":7,"x":0.245,"y":0.474},{"k":8,"x":0.26,"y":0.46},{"k":9,"x":0.266,"y":0.445},{"k":10,"x":0.265,"y":0.43},{"k":11,"x":0.258,"y":0.41},{"k":12,"x":0.247,"y":0.39},{"k":13,"x":0.233,"y":0.37},{"k":14,"x":0.219,"y":0.35},{"k":15,"x":0.205,"y":0.33},{"k":16,"x":0.19,"y":0.31},{"k":17,"x":0.177,"y":0.295},{"k":18,"x":0.16,"y":0.273},{"k":19,"x":0.143,"y":0.252},{"k":20,"x":0.127,"y":0.232},{"k":21,"x":0.11,"y":0.212},{"k":22,"x":0.095,"y":0.195},{"k":23,"x":0.075,"y":0.165},{"k":24,"x":0.058,"y":0.14},{"k":25,"x":0.042,"y":0.118},{"k":26,"x":0.03,"y":0.1},{"k":27,"x":0.02,"y":0.085},{"k":28,"x":0.013,"y":0.07},{"k":29,"x":0.009,"y":0.05},{"k":30,"x":0.011,"y":0.035},{"k":31,"x":0.018,"y":0.022},{"k":32,"x":0.03,"y":0.012},{"k":33,"x":0.05,"y":0.005},{"k":34,"x":0.08,"y":0.0},{"k":35,"x":0.12,"y":-0.002},{"k":36,"x":0.2,"y":-0.004},{"k":37,"x":0.3,"y":-0.005},{"k":38,"x":0.5,"y":-0.005}
],
"blueL":[
{"k":1,"x":0,"y":-0.1},{"k":2,"x":0,"y":-0.05},{"k":3,"x":0.0005,"y":0},{"k":4,"x":0.002,"y":0.04},{"k":5,"x":0.005,"y":0.07},{"k":6,"x":0.01,"y":0.095},{"k":7,"x":0.02,"y":0.12},{"k":8,"x":0.035,"y":0.145},{"k":9,"x":0.058,"y":0.17},{"k":10,"x":0.095,"y":0.195},{"k":11,"x":0.13,"y":0.215},{"k":12,"x":0.17,"y":0.238},{"k":13,"x":0.215,"y":0.26},{"k":14,"x":0.26,"y":0.281},{"k":15,"x":0.3,"y":0.3},{"k":16,"x":0.34,"y":0.32},{"k":17,"x":0.38,"y":0.342},{"k":18,"x":0.41,"y":0.36},{"k":19,"x":0.438,"y":0.38},{"k":20,"x":0.46,"y":0.405},{"k":21,"x":0.477,"y":0.432},{"k":22,"x":0.488,"y":0.455},{"k":23,"x":0.495,"y":0.478},{"k":24,"x":0.5,"y":0.5}
],
"tealR":[
{"k":1,"x":-0.1,"y":0.4995},{"k":2,"x":-0.02,"y":0.4993},{"k":3,"x":0.04,"y":0.497},{"k":4,"x":0.09,"y":0.492},{"k":5,"x":0.13,"y":0.482},{"k":6,"x":0.155,"y":0.468},{"k":7,"x":0.167,"y":0.452},{"k":8,"x":0.17,"y":0.44},{"k":9,"x":0.166,"y":0.42},{"k":10,"x":0.157,"y":0.4},{"k":11,"x":0.147,"y":0.378},{"k":12,"x":0.134,"y":0.36},{"k":13,"x":0.118,"y":0.34},{"k":14,"x":0.1,"y":0.318},{"k":15,"x":0.087,"y":0.302},{"k":16,"x":0.07,"y":0.281},{"k":17,"x":0.05,"y":0.258},{"k":18,"x":0.016,"y":0.214},{"k":19,"x":-0.015,"y":0.178},{"k":20,"x":-0.044,"y":0.143},{"k":21,"x":-0.066,"y":0.11},{"k":22,"x":-0.08,"y":0.08},{"k":23,"x":-0.087,"y":0.05},{"k":24,"x":-0.084,"y":0.028},{"k":25,"x":-0.07,"y":0.013},{"k":26,"x":-0.047,"y":0.005},{"k":27,"x":-0.02,"y":0.002},{"k":28,"x":0,"y":0},{"k":29,"x":0.05,"y":-0.002},{"k":30,"x":0.1,"y":-0.003},{"k":31,"x":0.2,"y":-0.004},{"k":32,"x":0.5,"y":-0.005}
],
"blueR":[
{"k":1,"x":0,"y":-0.1},{"k":2,"x":0,"y":-0.05},{"k":3,"x":0.0005,"y":0},{"k":4,"x":0.002,"y":0.04},{"k":5,"x":0.0096,"y":0.084},{"k":6,"x":0.027,"y":0.131},{"k":7,"x":0.045,"y":0.155},{"k":8,"x":0.069,"y":0.178},{"k":9,"x":0.1,"y":0.2},{"k":10,"x":0.1415,"y":0.223},{"k":11,"x":0.19,"y":0.246},{"k":12,"x":0.237,"y":0.267},{"k":13,"x":0.28,"y":0.29},{"k":14,"x":0.327,"y":0.314},{"k":15,"x":0.37,"y":0.333},{"k":16,"x":0.405,"y":0.349},{"k":17,"x":0.43,"y":0.365},{"k":18,"x":0.453,"y":0.39},{"k":19,"x":0.468,"y":0.415},{"k":20,"x":0.477,"y":0.437},{"k":21,"x":0.488,"y":0.465},{"k":22,"x":0.495,"y":0.49},{"k":23,"x":0.5,"y":0.5}
],
"caption":[
{"line":1,"x":-0.08493,"t":"Figure 2.","s":"b"},
{"line":1,"x":0.02570,"t":"(left)","s":"i"},
{"line":1,"x":0.09057,"t":"Empowerment","s":"n"},
{"line":1,"x":0.25106,"t":"landscape","s":"n"},
{"line":1,"x":0.36435,"t":"of","s":"n"},
{"line":1,"x":0.40218,"t":"a","s":"n"},
{"line":1,"x":0.43065,"t":"Wilson-Cowan","s":"n"},
{"line":1,"x":0.59523,"t":"nonlinear","s":"n"},
{"line":1,"x":0.70454,"t":"neural","s":"n"},
{"line":1,"x":0.78286,"t":"mass","s":"n"},
{"line":1,"x":0.84905,"t":"model","s":"n"},
{"line":1,"x":0.92737,"t":"in","s":"n"},
{"line":1,"x":0.98686,"t":"an","s":"r"},
{"line":2,"x":-0.08493,"t":"oscillatory","s":"n"},
{"line":2,"x":0.03143,"t":"regime.","s":"n"},
{"line":2,"x":0.11877,"t":"We","s":"n"},
{"line":2,"x":0.16629,"t":"observe","s":"n"},
{"line":2,"x":0.25562,"t":"that","s":"n"},
{"line":2,"x":0.30590,"t":"the","s":"n"},
{"line":2,"x":0.34946,"t":"oscillatory","s":"n"},
{"line":2,"x":0.46582,"t":"limit","s":"n"},
{"line":2,"x":0.52559,"t":"cycle","s":"n"},
{"line":2,"x":0.59066,"t":"forms","s":"n"},
{"line":2,"x":0.66112,"t":"a","s":"n"},
{"line":2,"x":0.68582,"t":"locus","s":"n"},
{"line":2,"x":0.75088,"t":"of","s":"n"},
{"line":2,"x":0.78494,"t":"high","s":"n"},
{"line":2,"x":0.98686,"t":"empowerment,","s":"r"},
{"line":3,"x":-0.08493,"t":"implying","s":"n"},
{"line":3,"x":0.02066,"t":"that","s":"n"},
{"line":3,"x":0.07495,"t":"afferent","s":"n"},
{"line":3,"x":0.16830,"t":"activity","s":"n"},
{"line":3,"x":0.25900,"t":"is","s":"n"},
{"line":3,"x":0.29311,"t":"well-encoded","s":"n"},
{"line":3,"x":0.44172,"t":"by","s":"n"},
{"line":3,"x":0.48388,"t":"the","s":"n"},
{"line":3,"x":0.53145,"t":"population","s":"n"},
{"line":3,"x":0.65314,"t":"when","s":"n"},
{"line":3,"x":0.72366,"t":"received","s":"n"},
{"line":3,"x":0.82373,"t":"at","s":"n"},
{"line":3,"x":0.85917,"t":"these","s":"n"},
{"line":3,"x":0.98686,"t":"states.","s":"r"},
{"line":4,"x":-0.08493,"t":"(right)","s":"i"},
{"line":4,"x":-0.00403,"t":"In","s":"n"},
{"line":4,"x":0.03373,"t":"contrast,","s":"n"},
{"line":4,"x":0.13427,"t":"when","s":"n"},
{"line":4,"x":0.20447,"t":"the","s":"n"},
{"line":4,"x":0.25173,"t":"dynamics","s":"n"},
{"line":4,"x":0.36230,"t":"exhibit","s":"n"},
{"line":4,"x":0.44727,"t":"a","s":"n"},
{"line":4,"x":0.47566,"t":"single","s":"n"},
{"line":4,"x":0.55126,"t":"stable","s":"n"},
{"line":4,"x":0.62543,"t":"fixed","s":"n"},
{"line":4,"x":0.69287,"t":"point","s":"n"},
{"line":4,"x":0.76031,"t":"(i.e.,","s":"n"},
{"line":4,"x":0.82169,"t":"not","s":"n"},
{"line":4,"x":0.98686,"t":"oscillatory),","s":"r"},
{"line":5,"x":-0.08493,"t":"empowerment is low across the entire state space.","s":"n"}
]
},
"bounds":"flush",
"spacing":405.5,
"vconcat":[
{"hconcat":[
{"width":354,"height":342,
"encoding":{
"x":{"field":"x","type":"quantitative","scale":{"domain":[-0.1,0.5],"nice":false,"zero":false},"axis":{"title":"Xᵢ","values":[-0.1,0,0.1,0.2,0.3,0.4,0.5],"format":".1f","titlePadding":9}},
"y":{"field":"y","type":"quantitative","scale":{"domain":[-0.1,0.5],"nice":false,"zero":false},"axis":{"title":"Xₑ","values":[-0.1,0,0.1,0.2,0.3,0.4,0.5],"format":".1f","titlePadding":4}}
},
"layer":[
{"data":{"name":"heatL"},"mark":{"type":"rect","binSpacing":-1},
"encoding":{
"x":{"field":"x","type":"quantitative","bin":{"extent":[-0.1,0.5],"step":0.025,"nice":false}},
"y":{"field":"y","type":"quantitative","bin":{"extent":[-0.1,0.5],"step":0.025,"nice":false}},
"color":{"field":"v","type":"quantitative","scale":{"type":"linear","domain":[-0.128,-0.05,0.027,0.15,0.31,0.45,0.615],"range":["#1e0000","#6b4343","#945f5f","#c3817f","#d9c3a0","#ebebbe","#ffffff"],"interpolate":"rgb","clamp":true},
"legend":{"type":"gradient","title":null,"values":[0.027,0.31,0.593],"format":".3f","gradientLength":331,"gradientThickness":17,"offset":16,"padding":4,"labelFontSize":13,"labelFont":"DejaVu Sans","labelColor":"#1a1a1a","labelOffset":5,"gradientStrokeColor":"#555","gradientStrokeWidth":0.6,"direction":"vertical","orient":"right"}}
}},
{"data":{"name":"qL"},"mark":{"type":"point","shape":"M0,0L1.45,0M1.35,-0.22L2,0L1.35,0.22Z","filled":true,"fill":"#2a1616","stroke":"#2a1616","strokeWidth":1.1,"opacity":0.85,"clip":true},
"encoding":{
"size":{"field":"L","type":"quantitative","scale":{"type":"pow","exponent":2,"domain":[0,22],"range":[0,484]},"legend":null},
"angle":{"field":"a","type":"quantitative","scale":null}
}},
{"data":{"name":"tealL"},"mark":{"type":"line","color":"#c4cbc2","strokeWidth":2.2},"encoding":{"order":{"field":"k","type":"quantitative"}}},
{"data":{"name":"tealL"},"mark":{"type":"line","color":"#4aae9c","strokeWidth":2.2,"strokeDash":[5,3]},"encoding":{"order":{"field":"k","type":"quantitative"}}},
{"data":{"name":"blueL"},"mark":{"type":"line","color":"#3a28d8","strokeWidth":1.6,"strokeDash":[4,2.5]},"encoding":{"order":{"field":"k","type":"quantitative"}}},
{"data":{"values":[{"x":0.095,"y":0.195}]},"mark":{"type":"circle","size":60,"color":"#000","opacity":1}}
]},
{"width":350,"height":342,
"encoding":{
"x":{"field":"x","type":"quantitative","scale":{"domain":[-0.1,0.5],"nice":false,"zero":false},"axis":{"title":"Xᵢ","values":[-0.1,0,0.1,0.2,0.3,0.4,0.5],"format":".1f","titlePadding":9}},
"y":{"field":"y","type":"quantitative","scale":{"domain":[-0.1,0.5],"nice":false,"zero":false},"axis":{"title":"Xₑ","values":[-0.1,0,0.1,0.2,0.3,0.4,0.5],"format":".1f","titlePadding":4}}
},
"layer":[
{"data":{"name":"heatR"},"mark":{"type":"rect","binSpacing":-1},
"encoding":{
"x":{"field":"x","type":"quantitative","bin":{"extent":[-0.1,0.5],"step":0.1,"nice":false}},
"y":{"field":"y","type":"quantitative","bin":{"extent":[-0.1,0.5],"step":0.1,"nice":false}},
"color":{"field":"v","type":"quantitative","scale":{"type":"linear","domain":[-0.128,-0.05,0.027,0.15,0.31,0.45,0.615],"range":["#1e0000","#6b4343","#945f5f","#c3817f","#d9c3a0","#ebebbe","#ffffff"],"interpolate":"rgb","clamp":true},"legend":null}
}},
{"data":{"name":"qR"},"mark":{"type":"point","shape":"M0,0L1.45,0M1.35,-0.22L2,0L1.35,0.22Z","filled":true,"fill":"#2a1616","stroke":"#2a1616","strokeWidth":1.1,"opacity":0.85,"clip":true},
"encoding":{
"size":{"field":"L","type":"quantitative","scale":{"type":"pow","exponent":2,"domain":[0,22],"range":[0,484]},"legend":null},
"angle":{"field":"a","type":"quantitative","scale":null}
}},
{"data":{"name":"tealR"},"mark":{"type":"line","color":"#c4cbc2","strokeWidth":2.2},"encoding":{"order":{"field":"k","type":"quantitative"}}},
{"data":{"name":"tealR"},"mark":{"type":"line","color":"#4aae9c","strokeWidth":2.2,"strokeDash":[5,3]},"encoding":{"order":{"field":"k","type":"quantitative"}}},
{"data":{"name":"blueR"},"mark":{"type":"line","color":"#3a28d8","strokeWidth":1.6,"strokeDash":[4,2.5]},"encoding":{"order":{"field":"k","type":"quantitative"}}},
{"data":{"values":[{"x":0,"y":0}]},"mark":{"type":"circle","size":22,"color":"#10104a","opacity":1}}
]}
],
"spacing":29,
"resolve":{"scale":{"color":"independent","x":"independent","y":"independent","size":"independent","angle":"independent"},"legend":{"color":"independent"}}
},
{"width":989,"height":173.5,"view":{"stroke":null},
"encoding":{
"x":{"field":"x","type":"quantitative","scale":{"domain":[0,1],"nice":false,"zero":false},"axis":null},
"y":{"field":"line","type":"quantitative","scale":{"domain":[0,6.547],"reverse":true,"nice":false,"zero":false},"axis":null}
},
"layer":[
{"data":{"values":[{"x":-0.09808,"x2":1,"line":-15.98,"line2":6.547}]},"mark":{"type":"rect","filled":false,"stroke":"#333","strokeWidth":1.5,"clip":false},"encoding":{"x2":{"field":"x2"},"y2":{"field":"line2"}}},
{"data":{"name":"caption"},"transform":[{"filter":"datum.s=='b'"}],"mark":{"type":"text","align":"left","baseline":"middle","font":"Liberation Serif","fontSize":24,"fontWeight":"bold","color":"#000"},"encoding":{"text":{"field":"t"}}},
{"data":{"name":"caption"},"transform":[{"filter":"datum.s=='i'"}],"mark":{"type":"text","align":"left","baseline":"middle","font":"Liberation Serif","fontSize":24,"fontStyle":"italic","color":"#000"},"encoding":{"text":{"field":"t"}}},
{"data":{"name":"caption"},"transform":[{"filter":"datum.s=='n'"}],"mark":{"type":"text","align":"left","baseline":"middle","font":"Liberation Serif","fontSize":24,"color":"#000"},"encoding":{"text":{"field":"t"}}},
{"data":{"name":"caption"},"transform":[{"filter":"datum.s=='r'"}],"mark":{"type":"text","align":"right","baseline":"middle","font":"Liberation Serif","fontSize":24,"color":"#000"},"encoding":{"text":{"field":"t"}}}
]}
]
}
